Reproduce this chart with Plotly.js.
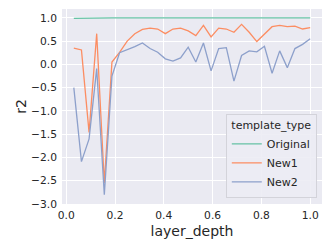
<!DOCTYPE html>
<html><head><meta charset="utf-8">
<script src="https://cdn.plot.ly/plotly-3.0.1.min.js"></script>
<style>html,body{margin:0;padding:0;background:#fff;}#chart{width:332px;height:249px;}</style>
</head><body><div id="chart"></div>
<script>
// layer_depth = i/32, i = 1..32
const layerIndex = [1,2,3,4,5,6,7,8,9,10,11,12,13,14,15,16,17,18,19,20,21,22,23,24,25,26,27,28,29,30,31,32];
const nLayers = 32;
const original = [0.99,0.995,1,1,1,1,1,1,1,1,1,1,1,1,1,1,1,1,1,1,1,1,1,1,1,1,1,1,1,1,1,1];
const new1 = [0.35,0.31,-1.46,0.66,-2.55,0.05,0.26,0.5,0.66,0.75,0.78,0.76,0.66,0.76,0.78,0.72,0.62,0.84,0.59,0.78,0.76,0.69,0.86,0.69,0.49,0.66,0.81,0.84,0.81,0.82,0.76,0.79];
const new2 = [-0.5,-2.09,-1.6,-0.09,-2.8,-0.25,0.25,0.31,0.38,0.46,0.34,0.26,0.12,0.07,0.14,0.37,0.05,0.46,-0.14,0.34,0.36,-0.36,0.19,0.29,0.27,0.39,-0.19,0.29,-0.07,0.34,0.43,0.55];
const seriesNames = ["Original","New1","New2"];
const seriesColors = ["#66c2a5","#fc8d62","#8da0cb"];
const xTickVals = [0,0.2,0.4,0.6,0.8,1.0];
const yTickVals = [-3,-2.5,-2,-1.5,-1,-0.5,0,0.5,1];

const depth = layerIndex.map(i => i / nLayers);
const ys = [original, new1, new2];
const traces = ys.map((y, k) => ({
  x: depth, y: y, type: 'scatter', mode: 'lines', name: seriesNames[k],
  line: {color: seriesColors[k], width: 1.3}
}));

const tickFont = {family: 'DejaVu Sans', size: 10.7, color: '#262626'};
const layout = {
  width: 332, height: 249,
  margin: {l: 62, r: 10, t: 9, b: 45},
  paper_bgcolor: '#ffffff', plot_bgcolor: '#eaeaf2',
  showlegend: true,
  xaxis: {
    range: [-0.0172, 1.0484], tickvals: xTickVals, tickformat: '.1f',
    showgrid: true, gridcolor: '#ffffff', gridwidth: 1, zeroline: false,
    showline: false, ticks: '', tickfont: tickFont, ticklabelstandoff: 3,
    title: {text: 'layer_depth', font: {family: 'DejaVu Sans', size: 14, color: '#262626'}, standoff: 5}
  },
  yaxis: {
    range: [-3.0, 1.19], tickvals: yTickVals, tickformat: '.1f',
    showgrid: true, gridcolor: '#ffffff', gridwidth: 1, zeroline: false,
    showline: false, ticks: '', tickfont: tickFont, ticklabelstandoff: 4,
    title: {text: 'r2', font: {family: 'DejaVu Sans', size: 14, color: '#262626'}, standoff: 1}
  },
  legend: {
    x: 0.98, y: 0.03, xanchor: 'right', yanchor: 'bottom',
    bgcolor: 'rgba(236,236,244,0.9)', bordercolor: '#d3d3da', borderwidth: 1,
    font: {family: 'DejaVu Sans', size: 11, color: '#262626'},
    title: {text: 'template_type', side: 'top center', font: {family: 'DejaVu Sans', size: 11, color: '#262626'}},
    tracegroupgap: 0, itemwidth: 30
  }
};
Plotly.newPlot('chart', traces, layout, {staticPlot: true, displayModeBar: false});
</script>
</body></html>
